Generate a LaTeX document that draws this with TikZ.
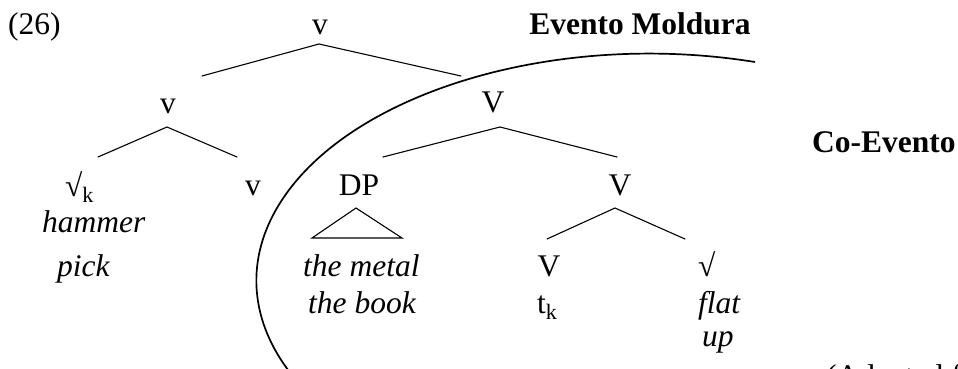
\documentclass[tikz,border=0pt]{standalone}
\usepackage{fontspec}
\setmainfont{Liberation Serif}
\usetikzlibrary{positioning}
\tikzset{
  lab/.style={inner sep=0pt,anchor=base},
  labl/.style={inner sep=0pt,anchor=base west},
  br/.style={line width=1.1pt,line cap=round},
  frame/.style={line width=1.7pt}
}

\begin{document}
\begin{tikzpicture}[x=1pt,y=-1pt,font=\fontsize{31.5pt}{36pt}\selectfont]
    \useasboundingbox (0,0) rectangle (958,369);
    \clip (0,0) rectangle (958,369);
    % labels
    \node[labl] (ex)     at (8,35)    {(26)};
    \node[lab]  (vtop)   at (320,35)  {v};
    \node[lab]  (emold)  at (640,35)  {\textbf{Evento Moldura}};
    \node[lab]  (vmid)   at (168,113) {v};
    \node[lab]  (Vmid)   at (493,112) {V};
    \node[labl] (rootk)  at (65,196)  {√\textsubscript{k}};
    \node[lab]  (vlow)   at (253,195) {v};
    \node[lab]  (dp)     at (359,195) {DP};
    \node[lab]  (Vbar)   at (620,195) {V};
    \node[labl] (hammer) at (42,232)  {\textit{hammer}};
    \node[labl] (pick)   at (57,276)  {\textit{pick}};
    \node[labl] (metal)  at (303,276) {\textit{the metal}};
    \node[labl] (book)   at (308,313) {\textit{the book}};
    \node[lab]  (Vlow)   at (549,276) {V};
    \node[labl] (rootr)  at (698,276) {√};
    \node[labl] (trace)  at (537,313) {t\textsubscript{k}};
    \node[labl] (flat)   at (698,313) {\textit{flat}};
    \node[labl] (up)     at (702,346) {\textit{up}};
    \node[labl] (coev)   at (812,152) {\textbf{Co-Evento}};
    \node[labl] (src)    at (826,386) {(Adapted from};
    % branch points
    \coordinate (t0) at (319,44);  \coordinate (t1) at (202,76);  \coordinate (t2) at (461,76);
    \coordinate (m0) at (167,127); \coordinate (m1) at (98,157);  \coordinate (m2) at (237,157);
    \coordinate (n0) at (500,127); \coordinate (n1) at (383,157); \coordinate (n2) at (617,157);
    \coordinate (b0) at (615,208); \coordinate (b1) at (547,239); \coordinate (b2) at (685,239);
    \coordinate (d0) at (356,208); \coordinate (d1) at (312,238); \coordinate (d2) at (402,238);
    \draw[br] (t1) -- (t0) -- (t2);
    \draw[br] (m1) -- (m0) -- (m2);
    \draw[br] (n1) -- (n0) -- (n2);
    \draw[br] (b1) -- (b0) -- (b2);
    \draw[br,line join=miter] (d0) -- (d1) -- (d2) -- cycle;
    % frame event boundary
    \coordinate (fe) at (755,62);
    \draw[frame] (fe) arc[start angle=74.4,end angle=212,x radius=393pt,y radius=227pt];
  \end{tikzpicture}
\end{document}
